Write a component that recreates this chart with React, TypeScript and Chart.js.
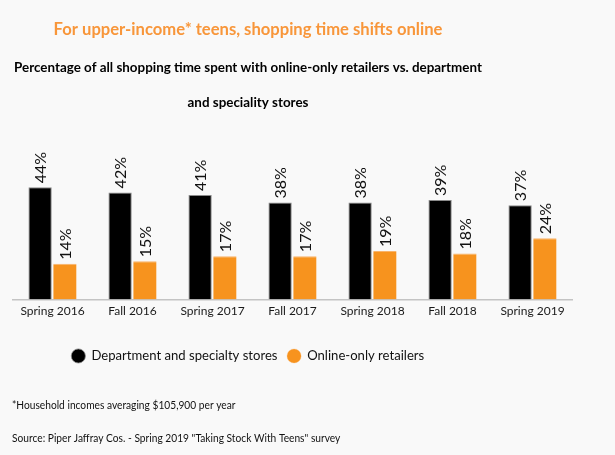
import React, { useEffect, useRef } from "react";
import { Chart, registerables } from "chart.js";

Chart.register(...registerables);

const categories = ["Spring 2016", "Fall 2016", "Spring 2017", "Fall 2017", "Spring 2018", "Fall 2018", "Spring 2019"];
const deptStores = [44, 42, 41, 38, 38, 39, 37];
const onlineOnly = [14, 15, 17, 17, 19, 18, 24];
const seriesNames = ["Department and specialty stores", "Online-only retailers"];
const titleText = "For upper-income* teens, shopping time shifts online";
const subtitleLines = ["Percentage of all shopping time spent with online-only retailers vs. department", "and speciality stores"];
const footnotes = ["*Household incomes averaging $105,900 per year", "Source: Piper Jaffray Cos. - Spring 2019 \"Taking Stock With Teens\" survey"];

const BG = "#f9f9f9";
const ORANGE = "#f7931e";

const barLabelPlugin = {
  id: "barLabels",
  afterDatasetsDraw(chart: any) {
    const ctx = chart.ctx;
    ctx.save();
    ctx.font = "16px Lato";
    ctx.fillStyle = "#111";
    ctx.textAlign = "left";
    ctx.textBaseline = "alphabetic";
    chart.data.datasets.forEach((ds: any, di: number) => {
      const meta = chart.getDatasetMeta(di);
      meta.data.forEach((bar: any, i: number) => {
        ctx.save();
        ctx.translate(bar.x + 16 * 0.36, bar.y - 4);
        ctx.rotate(-Math.PI / 2);
        ctx.fillText(ds.data[i] + "%", 0, 0);
        ctx.restore();
      });
    });
    ctx.restore();
  },
};

const footnotePlugin = {
  id: "footnotes",
  afterDraw(chart: any) {
    const ctx = chart.ctx;
    ctx.save();
    ctx.font = "12px Lato";
    ctx.fillStyle = "#111";
    ctx.textAlign = "left";
    ctx.textBaseline = "middle";
    ctx.translate(12, 0);
    ctx.scale(0.85, 1);
    ctx.fillText(footnotes[0], 0, 405);
    ctx.fillText(footnotes[1], 0, 438);
    ctx.restore();
  },
};

export default function App() {
  const ref = useRef<HTMLCanvasElement | null>(null);
  useEffect(() => {
    document.body.style.margin = "0";
    const chart = new Chart(ref.current as HTMLCanvasElement, {
      type: "bar",
      data: {
        labels: categories,
        datasets: [
          {
            label: seriesNames[0],
            data: deptStores,
            backgroundColor: "#000000",
            borderColor: "#8a8a8a",
            borderWidth: { top: 1, left: 1, right: 1, bottom: 0 },
            categoryPercentage: 0.62,
            barPercentage: 0.94,
          },
          {
            label: seriesNames[1],
            data: onlineOnly,
            backgroundColor: ORANGE,
            borderColor: "#f9b36a",
            borderWidth: { top: 1, left: 0, right: 0, bottom: 0 },
            categoryPercentage: 0.62,
            barPercentage: 0.94,
          },
        ],
      },
      options: {
        animation: false,
        responsive: false,
        maintainAspectRatio: false,
        layout: { padding: { left: -76.5, right: 42.5, top: 0, bottom: 82.5 } },
        scales: {
          x: {
            grid: { display: false, drawTicks: false },
            border: { display: true, color: "#c4c4c4", width: 1.5 },
            ticks: { color: "#1a1a1a", font: { family: "Lato", size: 12 }, padding: 4.5 },
            title: { display: true, text: "", font: { size: 1, lineHeight: 1 }, padding: { top: 15.5, bottom: 0 } },
          },
          y: {
            display: true,
            min: 0,
            max: 50,
            grid: { display: false, drawTicks: false },
            border: { display: false },
            ticks: { display: false },
            afterFit: (scale: any) => {
              scale.width = 89;
            },
          },
        },
        plugins: {
          title: {
            display: true,
            text: titleText,
            color: "#f8963a",
            font: { family: "Lato", size: 16.6, weight: "bold", lineHeight: "24px" as any },
            padding: { top: 18, bottom: 8.5 },
          },
          subtitle: {
            display: true,
            text: subtitleLines,
            color: "#000",
            font: { family: "Lato", size: 13.4, weight: "bold", lineHeight: "35px" as any },
            padding: { top: 0, bottom: 51.5 },
          },
          legend: {
            display: true,
            position: "bottom",
            labels: {
              usePointStyle: true,
              pointStyle: "circle",
              boxWidth: 15,
              boxHeight: 10,
              padding: 10,
              color: "#111",
              font: { family: "Lato", size: 13.1 },
            },
          },
          tooltip: { enabled: false },
        },
      },
      plugins: [barLabelPlugin, footnotePlugin],
    });
    return () => chart.destroy();
  }, []);
  return (
    <div style={{ width: 615, height: 455, background: BG }}>
      <canvas ref={ref} width={615} height={455} style={{ display: "block" }} />
    </div>
  );
}
